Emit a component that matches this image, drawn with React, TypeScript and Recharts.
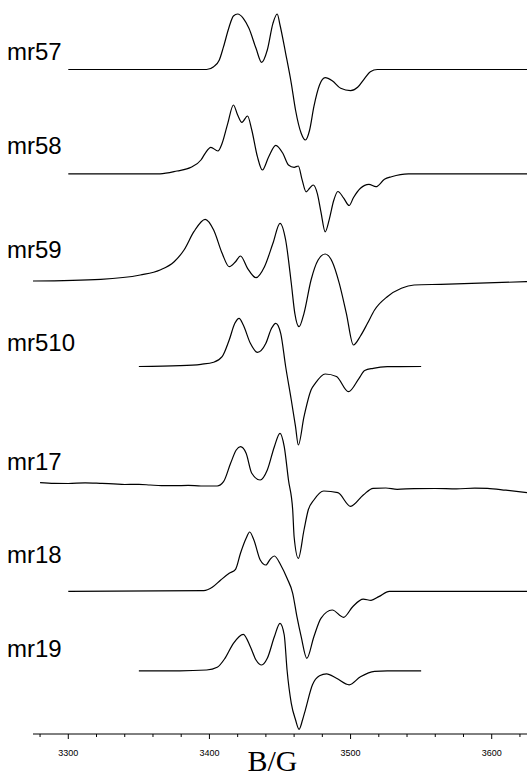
import { LineChart, Line, XAxis, YAxis } from "recharts";

// field positions in G, intensity in arbitrary units above each trace's own baseline
const MR57: [number, number][] = [
  [3300, 0], [3398, 0], [3403, 2.8], [3407, 9.5], [3410, 22.8], [3414, 42.8], [3417, 53.5],
  [3420, 55.5], [3424, 51.2], [3428, 41.2], [3433, 21.2], [3437, 7.2], [3441, 19.5],
  [3445, 46.2], [3448, 55.5], [3450, 44.5], [3454, 16.2], [3458, -13.8], [3461, -40.5],
  [3465, -63.8], [3468, -70.5], [3471, -60.5], [3474, -37.2], [3478, -15.5], [3482, -8.2],
  [3487, -11.2], [3493, -18.8], [3500, -21.2], [3505, -17.8], [3510, -8.8], [3514, -2.2],
  [3519, 0], [3625, 0],
];

const MR58: [number, number][] = [
  [3300, 0], [3365, 0], [3377, 2.8], [3387, 6.5], [3394, 13.8], [3397, 20.5], [3401, 26.5],
  [3406, 22.8], [3409, 30.5], [3413, 50.5], [3417, 68.8], [3420, 58.8], [3423, 51.5],
  [3427, 57.8], [3430, 43.8], [3434, 17.1], [3437.5, 3.8], [3442, 17.1], [3447, 28.5],
  [3452, 20.5], [3456, 8.8], [3460, 6.5], [3463, 7.8], [3465.5, -5], [3468.5, -18],
  [3471, -14.5], [3473.5, -11.2], [3476.5, -20], [3479, -38], [3482, -58], [3485, -45],
  [3488, -27], [3491, -17.7], [3495, -24], [3499, -31.7], [3502, -24], [3507, -14.5],
  [3513, -10.5], [3518, -12.9], [3524, -5.5], [3529, -2.9], [3541, 0], [3625, 0],
];

const MR59: [number, number][] = [
  [3275, 0], [3323, 1.7], [3351, 6], [3365, 11], [3375, 19.3], [3382, 31], [3389, 49.3],
  [3397, 61.7], [3403, 51], [3409, 27.7], [3414, 14.3], [3418.5, 19.3], [3422, 25],
  [3427, 12.7], [3433, 3.3], [3439, 14.3], [3445, 37.7], [3450, 57.7], [3454, 41],
  [3458, -2.3], [3460.5, -32.3], [3463.5, -45.7], [3467, -32.3], [3472, 1], [3477, 21],
  [3482, 27], [3487, 19.3], [3492, -2.3], [3497, -32.3], [3502, -64], [3507, -55],
  [3512, -42.3], [3517, -29], [3526, -15.7], [3536, -7.3], [3545, -4], [3564, -3.3],
  [3625, -0.7],
];

const MR510: [number, number][] = [
  [3350, 0], [3379, 0.8], [3394, 2.2], [3403, 4.2], [3409, 9.8], [3414, 26.5], [3418, 43.2],
  [3421, 48.2], [3424, 41.5], [3429, 23.2], [3434, 14.2], [3440, 23.2], [3444, 38.2],
  [3447, 43.2], [3450.5, 33.2], [3454, 0], [3458, -33.5], [3461, -60.2], [3463, -78.5],
  [3467, -50.2], [3472, -23.5], [3475, -16.8], [3482, -7.5], [3490, -10], [3498.5, -25.2],
  [3506, -11.8], [3510, -4], [3516, -1.8], [3526, -0.2], [3550, 0],
];

const MR17: [number, number][] = [
  [3280, 3.3], [3290, 2.6], [3300, 2.5], [3312, 3.1], [3322.5, 2.7], [3332, 2.2], [3340, 1.5],
  [3350, 1.6], [3358, 1], [3366, 0.4], [3375, 0.3], [3385, 0.6], [3394, 0], [3405.5, 0],
  [3410, 4.3], [3415, 22.7], [3419, 36], [3422, 39.3], [3426, 32.7], [3430, 12.7],
  [3436, 6], [3441, 16], [3446, 39.3], [3450, 52.7], [3453, 39.3], [3456, 6], [3459, -24],
  [3460, -50.7], [3463, -72.3], [3467, -44], [3470, -24], [3474, -14], [3481, -5],
  [3491, -6.7], [3500, -20.3], [3509, -9], [3516, -2.3], [3525, -2], [3533, -3.3],
  [3545, -2.6], [3560, -2.5], [3575, -2.9], [3588, -2.1], [3597, -2.3], [3610, -4.2],
  [3625, -6.7],
];

const MR18: [number, number][] = [
  [3300, 0], [3396, 0.6], [3402, 4], [3408, 11.3], [3414, 18], [3418.5, 22], [3422, 38],
  [3426, 53], [3428.5, 59.3], [3431.5, 51.3], [3436, 31.3], [3440, 26.3], [3443, 32],
  [3446, 35.3], [3450.5, 26.3], [3455, 13], [3459, -2], [3462, -25.4], [3465, -45.4],
  [3469, -67], [3474, -45.4], [3479, -27], [3487, -18.7], [3495, -26], [3501.5, -15.4],
  [3509, -7.9], [3514.5, -9], [3520, -5.3], [3527.5, 0], [3625, 0],
];

const MR19: [number, number][] = [
  [3350, 0], [3379, 0], [3398, 0.8], [3405.5, 3.5], [3411, 12.5], [3417, 27.5], [3424, 36.5],
  [3429, 24], [3433, 10.8], [3437, 5.8], [3441, 12.5], [3446, 34], [3450, 47.5],
  [3453, 35.8], [3455, 0.8], [3458, -32.5], [3461, -49], [3463.5, -58.5], [3466, -49],
  [3468, -39], [3473, -14], [3478, -5], [3483, -3], [3490, -7.5], [3499, -14], [3507, -6],
  [3517, -0.5], [3526, 0], [3550, 0],
];

const SAMPLES = ["mr57", "mr58", "mr59", "mr510", "mr17", "mr18", "mr19"];
const SPECTRA = [MR57, MR58, MR59, MR510, MR17, MR18, MR19];
// vertical stacking offset of each trace's baseline
const OFFSETS = [664.5, 560.2, 453, 367.5, 248, 142.7, 63.2];
// label baselines (same units)
const LABEL_LEVELS = [674, 580, 475.7, 382.3, 263.3, 170.7, 76.7];

const TICKS = [
  3280, 3300, 3320, 3340, 3360, 3380, 3400, 3420, 3440, 3460, 3480, 3500, 3520, 3540, 3560,
  3580, 3600, 3620,
];

const W = 527;
const H = 778;
const AXIS_H = 44;
const PLOT_H = H - AXIS_H;

function AxisTick({ x, y, payload }: any) {
  const major = payload.value % 100 === 0;
  return (
    <g>
      <line x1={x} x2={x} y1={y} y2={y + (major ? 5 : 3)} stroke="#000" strokeWidth={1} />
      {major && (
        <text
          x={x}
          y={y + 22}
          textAnchor="middle"
          fontSize={9}
          fontFamily="'Liberation Sans', Arial, sans-serif"
          fill="#000"
        >
          {payload.value}
        </text>
      )}
    </g>
  );
}

export default function App() {
  return (
    <div style={{ position: "relative", width: W, height: H, background: "#fff", overflow: "hidden" }}>
      <style>{"body{margin:0}"}</style>
      <LineChart width={W} height={H} margin={{ top: 0, right: 0, left: 33, bottom: 0 }}>
        <XAxis
          type="number"
          dataKey="b"
          domain={[3275, 3625]}
          allowDataOverflow
          ticks={TICKS}
          interval={0}
          tickSize={0}
          tickMargin={0}
          tickLine={false}
          tick={<AxisTick />}
          height={AXIS_H}
          axisLine={{ stroke: "#000", strokeWidth: 1 }}
        />
        <YAxis type="number" domain={[0, PLOT_H]} hide allowDataOverflow />
        {SPECTRA.map((s, i) => (
          <Line
            key={SAMPLES[i]}
            name={SAMPLES[i]}
            data={s.map(([b, v]) => ({ b, v: v + OFFSETS[i] }))}
            dataKey="v"
            type="monotone"
            stroke="#000"
            strokeWidth={1.2}
            dot={false}
            activeDot={false}
            isAnimationActive={false}
          />
        ))}
      </LineChart>
      {SAMPLES.map((name, i) => (
        <div
          key={name}
          style={{
            position: "absolute",
            left: 7,
            top: PLOT_H - LABEL_LEVELS[i] - 20.3,
            fontFamily: "'Liberation Sans', Arial, sans-serif",
            fontSize: 24,
            lineHeight: "24px",
            color: "#000",
          }}
        >
          {name}
        </div>
      ))}
      <div
        style={{
          position: "absolute",
          left: 0,
          width: 545,
          top: 748,
          textAlign: "center",
          fontFamily: "'Liberation Serif', 'Times New Roman', serif",
          fontSize: 30,
          lineHeight: "26px",
          color: "#000",
        }}
      >
        B/G
      </div>
    </div>
  );
}
